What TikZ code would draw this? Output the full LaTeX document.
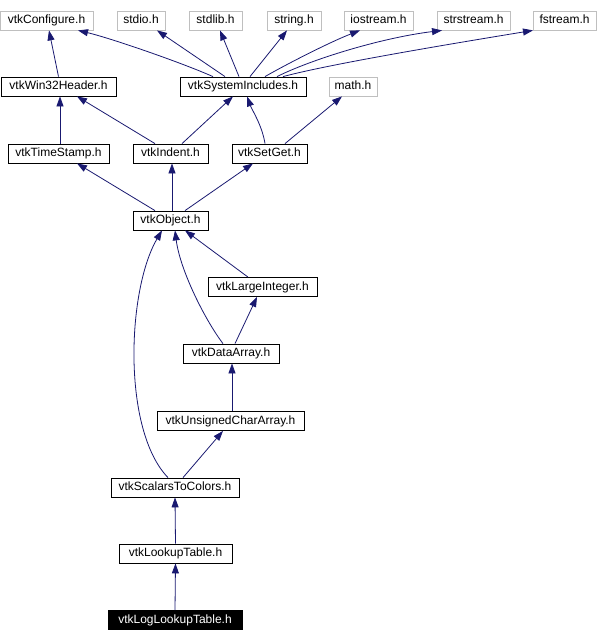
\documentclass[tikz,border=0pt]{standalone}
\usepackage{fontspec}
\setmainfont{Liberation Sans}
\usepackage{tikz}
\usetikzlibrary{arrows.meta}

\definecolor{edgeblue}{RGB}{25,25,112}
\definecolor{boxgray}{RGB}{191,191,191}

\begin{document}
\begin{tikzpicture}[
    x=1pt, y=-1pt,
    every node/.style={font=\fontsize{12}{14}\selectfont, inner sep=0pt, minimum height=19pt, text height=9pt, text depth=3pt},
    sysfile/.style={rectangle, draw=boxgray, line width=0.8pt},
    vtkfile/.style={rectangle, draw=black, line width=0.8pt},
    current/.style={rectangle, draw=black, fill=black, text=white, line width=0.8pt},
    dep/.style={-{Triangle[length=10pt, width=7pt]}, draw=edgeblue, line width=0.8pt}
]
\useasboundingbox (0,0) rectangle (597,642);

% Nodes
\node (conf) [sysfile, minimum width=93pt] at (46.5,20.5) {vtkConfigure.h};
\node (stdio) [sysfile, minimum width=48pt] at (141,20.5) {stdio.h};
\node (stdlib) [sysfile, minimum width=53pt] at (215.5,20.5) {stdlib.h};
\node (string) [sysfile, minimum width=54pt] at (294,20.5) {string.h};
\node (iostream) [sysfile, minimum width=69pt] at (378.5,20.5) {iostream.h};
\node (strstream) [sysfile, minimum width=73pt] at (473.5,20.5) {strstream.h};
\node (fstream) [sysfile, minimum width=63pt] at (564.5,20.5) {fstream.h};

\node (win32) [vtkfile, minimum width=115pt] at (58.5,86.5) {vtkWin32Header.h};
\node (sysinc) [vtkfile, minimum width=126pt] at (243,86.5) {vtkSystemIncludes.h};
\node (math) [sysfile, minimum width=48pt] at (353,86.5) {math.h};

\node (tstamp) [vtkfile, minimum width=101pt] at (58.5,153.5) {vtkTimeStamp.h};
\node (indent) [vtkfile, minimum width=75pt] at (170.5,153.5) {vtkIndent.h};
\node (setget) [vtkfile, minimum width=75pt] at (269.5,153.5) {vtkSetGet.h};

\node (object) [vtkfile, minimum width=75pt] at (170.5,220.5) {vtkObject.h};
\node (largeint) [vtkfile, minimum width=109pt] at (262.5,287) {vtkLargeInteger.h};
\node (darray) [vtkfile, minimum width=96pt] at (231,353.5) {vtkDataArray.h};
\node (uchar) [vtkfile, minimum width=147pt] at (230.5,421) {vtkUnsignedCharArray.h};
\node (s2c) [vtkfile, minimum width=128pt] at (175,487.5) {vtkScalarsToColors.h};
\node (lut) [vtkfile, minimum width=113pt] at (175.5,553.5) {vtkLookupTable.h};
\node (loglut) [current, minimum width=134pt] at (175,620) {vtkLogLookupTable.h};

% Arrows
\draw [dep] (win32.north) -- ([xshift=2.5pt]conf.south);
\draw [dep] ([xshift=-30pt]sysinc.north) .. controls (180,62) and (110,38) .. ([xshift=31.5pt]conf.south);
\draw [dep] ([xshift=-18pt]sysinc.north) -- ([xshift=16pt]stdio.south);
\draw [dep] ([xshift=-4pt]sysinc.north) -- ([xshift=4.5pt]stdlib.south);
\draw [dep] ([xshift=7pt]sysinc.north) -- ([xshift=-7pt]string.south);
\draw [dep] ([xshift=22pt]sysinc.north) .. controls (285,65) and (330,42) .. ([xshift=-18.5pt]iostream.south);
\draw [dep] ([xshift=34pt]sysinc.north) .. controls (310,60) and (380,38) .. ([xshift=-31.5pt]strstream.south);
\draw [dep] ([xshift=40pt]sysinc.north) .. controls (330,64) and (450,44) .. ([xshift=-31.5pt]fstream.south);

\draw [dep] ([xshift=1.5pt]tstamp.north) -- ([xshift=1.5pt]win32.south);
\draw [dep] ([xshift=-15.5pt]indent.north) -- ([xshift=18.5pt]win32.south);
\draw [dep] ([xshift=11.5pt]indent.north) -- ([xshift=-10pt]sysinc.south);
\draw [dep] ([xshift=-4.5pt]setget.north) .. controls (262,125) and (252,110) .. ([xshift=4pt]sysinc.south);
\draw [dep] ([xshift=15.5pt]setget.north) -- ([xshift=-11pt]math.south);

\draw [dep] ([xshift=-15.5pt]object.north) -- ([xshift=18.5pt]tstamp.south);
\draw [dep] ([xshift=1.5pt]object.north) -- ([xshift=1.5pt]indent.south);
\draw [dep] ([xshift=14.5pt]object.north) -- ([xshift=-16.5pt]setget.south);

\draw [dep] ([xshift=-14.5pt]largeint.north) -- ([xshift=14.5pt]object.south);
\draw [dep] ([xshift=-8pt]darray.north) .. controls (205,320) and (180,270) .. ([xshift=4.5pt]object.south);
\draw [dep] ([xshift=4pt]darray.north) -- ([xshift=-5.5pt]largeint.south);
\draw [dep] ([xshift=1.5pt]uchar.north) -- ([xshift=1pt]darray.south);
\draw [dep] ([xshift=-7pt]s2c.north) .. controls (122,430) and (127,290) .. ([xshift=-8.5pt]object.south);
\draw [dep] ([xshift=8pt]s2c.north) -- ([xshift=-7.5pt]uchar.south);
\draw [dep] (lut.north) -- (s2c.south);
\draw [dep] (loglut.north) -- (lut.south);

\end{tikzpicture}
\end{document}
